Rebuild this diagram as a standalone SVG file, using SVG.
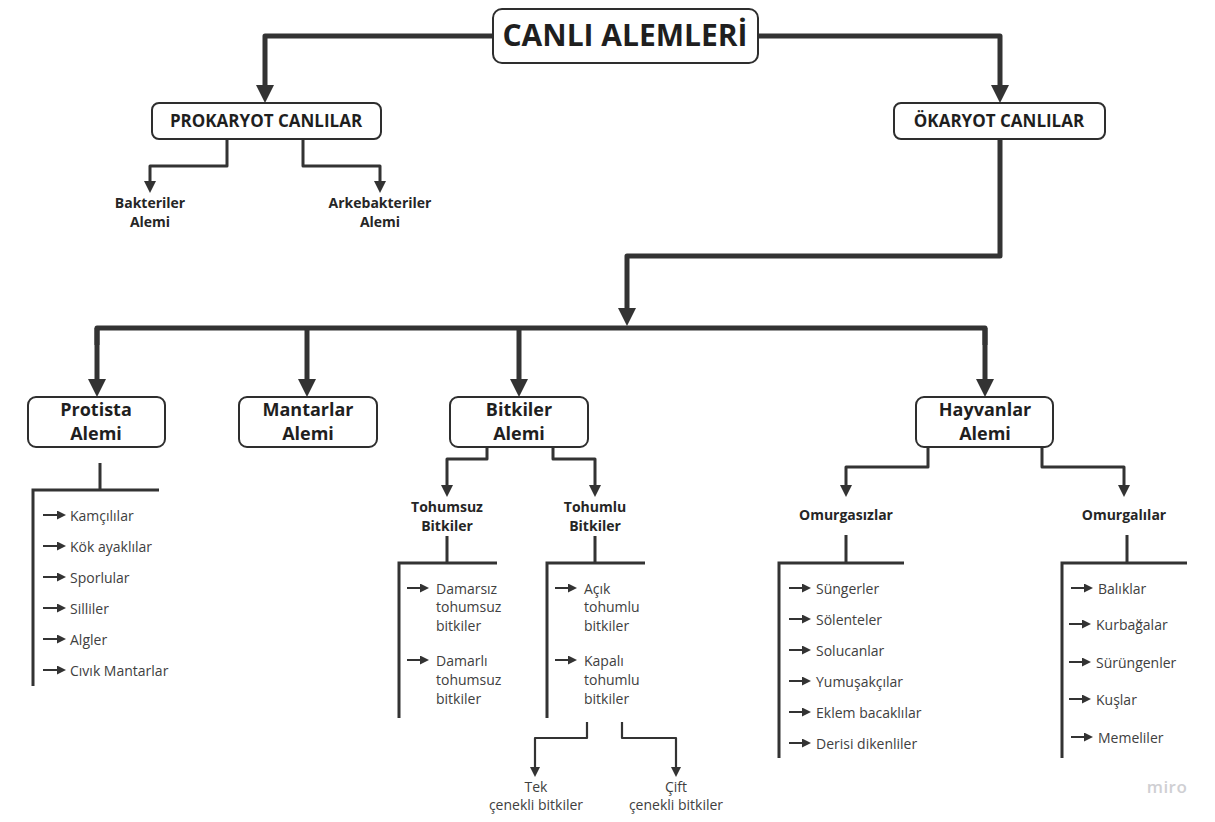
<svg xmlns="http://www.w3.org/2000/svg" width="1215" height="822" viewBox="0 0 1215 822">
<style>
text{font-family:"Open Sans","Liberation Sans",sans-serif;}
.box{fill:#fff;stroke:#2e2e2e;stroke-width:2;}
.t30{font-size:30px;font-weight:700;fill:#1f1f1f;text-anchor:middle;}
.t17{font-size:17px;font-weight:700;fill:#1f1f1f;text-anchor:middle;}
.t18{font-size:18px;font-weight:700;fill:#1f1f1f;text-anchor:middle;}
.lb{font-size:14px;font-weight:700;fill:#262626;text-anchor:middle;}
.it{font-size:14px;font-weight:400;fill:#404040;}
.itc{font-size:14px;font-weight:400;fill:#404040;text-anchor:middle;}
.big{fill:none;stroke:#333;stroke-width:5;stroke-linejoin:round;marker-end:url(#mBig);}
.bar{fill:none;stroke:#333;stroke-width:5;stroke-linejoin:round;}
.mid{fill:none;stroke:#333;stroke-width:3;stroke-linejoin:round;marker-end:url(#mMid);}
.sm{fill:none;stroke:#333;stroke-width:2.2;stroke-linejoin:round;marker-end:url(#mSm);}
.br{fill:none;stroke:#333;stroke-width:3;}
.li{fill:none;stroke:#333;stroke-width:2;marker-end:url(#mTiny);}
</style>
<defs>
<marker id="mBig" markerUnits="userSpaceOnUse" viewBox="0 0 18 18" markerWidth="18" markerHeight="18" refX="8" refY="9" orient="auto"><path d="M0,0 L18,9 L0,18 z" fill="#333"/></marker>
<marker id="mMid" markerUnits="userSpaceOnUse" viewBox="0 0 12 12" markerWidth="12" markerHeight="12" refX="5" refY="6" orient="auto"><path d="M0,0 L12,6 L0,12 z" fill="#333"/></marker>
<marker id="mSm" markerUnits="userSpaceOnUse" viewBox="0 0 10 10" markerWidth="10" markerHeight="10" refX="4" refY="5" orient="auto"><path d="M0,0 L10,5 L0,10 z" fill="#333"/></marker>
<marker id="mTiny" markerUnits="userSpaceOnUse" viewBox="0 0 9 9" markerWidth="9" markerHeight="9" refX="3" refY="4.5" orient="auto"><path d="M0,0 L9,4.5 L0,9 z" fill="#333"/></marker>
</defs>
<rect width="1215" height="822" fill="#fff"/>

<g id="connectors">
<path class="big" d="M493,36 H265 V93"/>
<path class="big" d="M758,36 H1000 V93"/>
<path class="big" d="M1000,139 V256 H627 V316"/>
<path class="bar" d="M97,345 V328 H985 V345"/>
<path class="big" d="M97,328 V387"/>
<path class="big" d="M985,328 V387"/>
<path class="big" d="M307,328 V387"/>
<path class="big" d="M519,328 V387"/>
<path class="mid" d="M227,139 V166 H150 V186"/>
<path class="mid" d="M303,139 V166 H380 V186"/>
<path class="mid" d="M487,447 V459 H447 V490"/>
<path class="mid" d="M553,447 V459 H595 V490"/>
<path class="mid" d="M928,447 V467 H846 V490"/>
<path class="mid" d="M1042,447 V467 H1124 V490"/>
<path class="sm" d="M587,722 V738 H535 V771"/>
<path class="sm" d="M622,722 V738 H676 V771"/>
<path class="br" d="M100,463 V490 M33,686 V490 H159"/>
<path class="br" d="M447,536 V563 M399,718 V563 H497"/>
<path class="br" d="M595,536 V563 M547,718 V563 H645"/>
<path class="br" d="M846,535 V563 M779,758 V563 H904"/>
<path class="br" d="M1127,535 V563 M1062,758 V563 H1187"/>
</g>

<g id="title"><rect class="box" x="493" y="9" width="265" height="54" rx="9"/><text class="t30" x="625" y="46">CANLI ALEMLERİ</text></g>
<g id="prokaryot"><rect class="box" x="152" y="103" width="229" height="36" rx="7"/><text class="t17" x="266" y="127">PROKARYOT CANLILAR</text></g>
<g id="okaryot"><rect class="box" x="894" y="103" width="211" height="36" rx="7"/><text class="t17" x="999" y="127">ÖKARYOT CANLILAR</text></g>
<g id="bakteriler"><text class="lb" x="150" y="208">Bakteriler</text><text class="lb" x="150" y="227">Alemi</text></g>
<g id="arkebakteriler"><text class="lb" x="380" y="208">Arkebakteriler</text><text class="lb" x="380" y="227">Alemi</text></g>

<g id="protista"><rect class="box" x="28" y="397" width="137" height="50" rx="8"/><text class="t18" x="96" y="416">Protista</text><text class="t18" x="96" y="440">Alemi</text></g>
<g id="mantarlar"><rect class="box" x="239" y="397" width="138" height="50" rx="8"/><text class="t18" x="308" y="416">Mantarlar</text><text class="t18" x="308" y="440">Alemi</text></g>
<g id="bitkiler"><rect class="box" x="450" y="397" width="138" height="50" rx="8"/><text class="t18" x="519" y="416">Bitkiler</text><text class="t18" x="519" y="440">Alemi</text></g>
<g id="hayvanlar"><rect class="box" x="916" y="397" width="137" height="50" rx="8"/><text class="t18" x="985" y="416">Hayvanlar</text><text class="t18" x="985" y="440">Alemi</text></g>

<g id="protista-list">
<path class="li" d="M43,515 H60"/><text class="it" x="70" y="521">Kamçılılar</text>
<path class="li" d="M43,546 H60"/><text class="it" x="70" y="552">Kök ayaklılar</text>
<path class="li" d="M43,577 H60"/><text class="it" x="70" y="583">Sporlular</text>
<path class="li" d="M43,608 H60"/><text class="it" x="70" y="614">Silliler</text>
<path class="li" d="M43,639 H60"/><text class="it" x="70" y="645">Algler</text>
<path class="li" d="M43,670 H60"/><text class="it" x="70" y="676">Cıvık Mantarlar</text>
</g>

<g id="tohumsuz"><text class="lb" x="447" y="512">Tohumsuz</text><text class="lb" x="447" y="531">Bitkiler</text></g>
<g id="tohumlu"><text class="lb" x="595" y="512">Tohumlu</text><text class="lb" x="595" y="531">Bitkiler</text></g>

<g id="tohumsuz-list">
<path class="li" d="M407,588 H423"/>
<text class="it" x="436" y="594">Damarsız</text><text class="it" x="436" y="612">tohumsuz</text><text class="it" x="436" y="631">bitkiler</text>
<path class="li" d="M407,660 H423"/>
<text class="it" x="436" y="666">Damarlı</text><text class="it" x="436" y="685">tohumsuz</text><text class="it" x="436" y="704">bitkiler</text>
</g>
<g id="tohumlu-list">
<path class="li" d="M555,588 H571"/>
<text class="it" x="584" y="594">Açık</text><text class="it" x="584" y="612">tohumlu</text><text class="it" x="584" y="631">bitkiler</text>
<path class="li" d="M555,660 H571"/>
<text class="it" x="584" y="666">Kapalı</text><text class="it" x="584" y="685">tohumlu</text><text class="it" x="584" y="704">bitkiler</text>
</g>
<g id="tek"><text class="itc" x="536" y="792">Tek</text><text class="itc" x="536" y="810">çenekli bitkiler</text></g>
<g id="cift"><text class="itc" x="676" y="792">Çift</text><text class="itc" x="676" y="810">çenekli bitkiler</text></g>

<g id="omurgasizlar"><text class="lb" x="846" y="520">Omurgasızlar</text></g>
<g id="omurgalilar"><text class="lb" x="1124" y="520">Omurgalılar</text></g>

<g id="omurgasizlar-list">
<path class="li" d="M789,588 H805"/><text class="it" x="816" y="594">Süngerler</text>
<path class="li" d="M789,619 H805"/><text class="it" x="816" y="625">Sölenteler</text>
<path class="li" d="M789,650 H805"/><text class="it" x="816" y="656">Solucanlar</text>
<path class="li" d="M789,681 H805"/><text class="it" x="816" y="687">Yumuşakçılar</text>
<path class="li" d="M789,712 H805"/><text class="it" x="816" y="718">Eklem bacaklılar</text>
<path class="li" d="M789,743 H805"/><text class="it" x="816" y="749">Derisi dikenliler</text>
</g>
<g id="omurgalilar-list">
<path class="li" d="M1071,588 H1087"/><text class="it" x="1098" y="594">Balıklar</text>
<path class="li" d="M1069,624 H1085"/><text class="it" x="1096" y="630">Kurbağalar</text>
<path class="li" d="M1069,662 H1085"/><text class="it" x="1096" y="668">Sürüngenler</text>
<path class="li" d="M1069,699 H1085"/><text class="it" x="1096" y="705">Kuşlar</text>
<path class="li" d="M1071,737 H1087"/><text class="it" x="1098" y="743">Memeliler</text>
</g>

<text x="1167" y="793" style="font-size:17px;font-weight:600;fill:#cfcfd3;text-anchor:middle;letter-spacing:0.5px">miro</text>
</svg>
